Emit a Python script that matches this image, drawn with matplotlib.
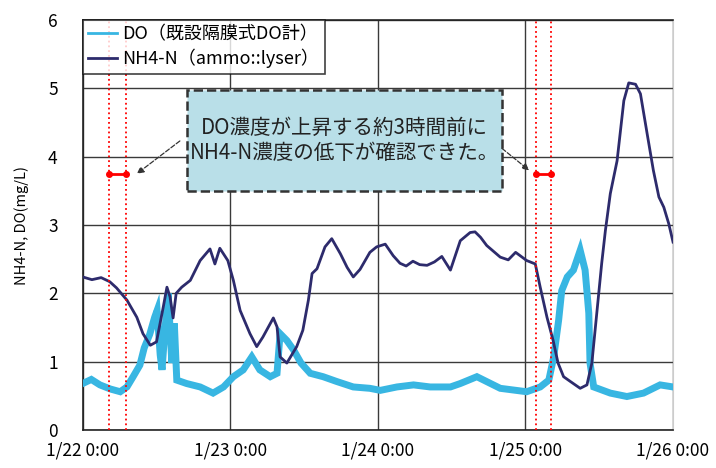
import matplotlib.pyplot as plt
from matplotlib.patches import Rectangle

plt.rcParams['font.family'] = ['Noto Sans CJK JP', 'DejaVu Sans']

# hours from 1/22 0:00
nh4_hours = [0, 1.5, 3.0, 4.4, 5.5, 7.2, 8.8, 9.8, 11.0, 12.0, 13.1, 13.7, 14.2, 14.7, 15.2,
             16.1, 17.5, 19.1, 20.7, 21.5, 22.3, 23.6, 24.5, 25.6, 27.2, 28.3, 29.3, 31.0,
             31.6, 32.1, 33.2, 34.8, 35.8, 36.7, 37.3, 38.1, 39.4, 40.5, 41.9, 43.0, 44.0,
             45.1, 46.7, 47.8, 49.2, 50.5, 51.6, 52.6, 53.7, 54.8, 56.0, 57.2, 58.4, 59.8,
             61.4, 63.0, 63.8, 64.7, 65.7, 67.9, 69.2, 70.4, 72.2, 73.6, 74.4, 75.5, 76.5,
             77.3, 78.2, 79.3, 80.9, 82.0, 82.8, 83.6, 84.4, 85.0, 85.8, 86.9, 88.0, 88.8,
             89.9, 90.7, 91.8, 92.8, 93.7, 94.5, 95.3, 96.0]
nh4_vals = [2.24, 2.20, 2.23, 2.17, 2.08, 1.90, 1.65, 1.41, 1.24, 1.29, 1.80, 2.09, 1.95, 1.64,
            2.00, 2.09, 2.19, 2.48, 2.65, 2.43, 2.66, 2.48, 2.19, 1.75, 1.41, 1.22, 1.36,
            1.64, 1.51, 1.07, 0.98, 1.22, 1.46, 1.90, 2.29, 2.36, 2.68, 2.80, 2.58, 2.38,
            2.24, 2.35, 2.60, 2.68, 2.72, 2.55, 2.44, 2.40, 2.47, 2.42, 2.41, 2.46, 2.54,
            2.34, 2.77, 2.89, 2.90, 2.82, 2.70, 2.53, 2.49, 2.60, 2.48, 2.43, 2.09, 1.65,
            1.31, 0.98, 0.78, 0.71, 0.61, 0.66, 0.98, 1.71, 2.44, 2.92, 3.46, 3.94, 4.82,
            5.08, 5.06, 4.92, 4.33, 3.80, 3.41, 3.26, 3.02, 2.75]

do_hours = [0, 1.4, 2.8, 4.5, 6.1, 7.2, 8.2, 9.3, 10.0, 10.9, 11.7, 12.1, 12.6, 12.9, 13.4,
            13.9, 14.5, 14.9, 15.3, 16.9, 19.1, 21.2, 22.9, 24.5, 26.1, 27.5, 28.8, 30.5,
            31.6, 32.1, 33.2, 34.3, 35.5, 37.0, 39.1, 41.3, 44.0, 46.7, 48.4, 51.1, 53.8,
            56.5, 59.8, 61.4, 64.1, 67.9, 72.2, 74.4, 75.8, 76.6, 77.4, 77.9, 78.8, 79.8,
            80.9, 81.7, 82.3, 82.5, 83.1, 85.8, 88.5, 91.2, 93.9, 96.0]
do_vals = [0.68, 0.74, 0.66, 0.60, 0.56, 0.63, 0.78, 0.95, 1.20, 1.40, 1.65, 1.75, 1.10, 0.88,
           1.50, 2.00, 0.98, 1.56, 0.73, 0.68, 0.63, 0.54, 0.63, 0.78, 0.88, 1.07, 0.88,
           0.78, 0.83, 1.41, 1.31, 1.17, 0.98, 0.83, 0.78, 0.71, 0.63, 0.61, 0.58, 0.63,
           0.66, 0.63, 0.63, 0.68, 0.78, 0.61, 0.56, 0.63, 0.73, 1.07, 1.61, 2.04, 2.24,
           2.34, 2.63, 2.34, 1.71, 0.98, 0.63, 0.54, 0.49, 0.54, 0.66, 0.63]

tick_hours = [0, 24, 48, 72, 96]
tick_labels = ['1/22 0:00', '1/23 0:00', '1/24 0:00', '1/25 0:00', '1/26 0:00']

marker_pairs = [(4.3, 7.05), (73.7, 76.15)]

fig = plt.figure(figsize=(7.16, 4.68), dpi=100)
ax = fig.add_axes([0.1155, 0.0812, 0.8245, 0.876])

ax.plot(do_hours, do_vals, color='#38b6e2', lw=5, solid_joinstyle='miter',
        label='DO（既設隔膜式DO計）', zorder=3)
ax.plot(nh4_hours, nh4_vals, color='#2d2b6c', lw=2, label='NH4-N（ammo::lyser）', zorder=4)

ax.set_xlim(0, 96)
ax.set_ylim(0, 6)
ax.set_xticks(tick_hours)
ax.set_xticklabels(tick_labels)
ax.set_yticks(range(7))
ax.tick_params(length=0, labelsize=12.5)
ax.tick_params(axis='x', pad=8)
ax.tick_params(axis='y', pad=18)
ax.grid(True, color='#3a3a3a', lw=1)
ax.set_axisbelow(True)
for s in ['left', 'bottom', 'top']:
    ax.spines[s].set_color('#222')
    ax.spines[s].set_linewidth(1.2)
ax.spines['right'].set_color('#cccccc')
ax.set_ylabel('NH4-N, DO(mg/L)', fontsize=10.5, labelpad=14)

# red dotted markers and 3h spans
for a, b in marker_pairs:
    for xv in (a, b):
        ax.axvline(xv, color='red', ls=':', lw=1.3, zorder=5)
    ax.plot([a, b], [3.75, 3.75], color='red', lw=2, marker='o', ms=4, zorder=6)

# annotation box
ax.add_patch(Rectangle((17.0, 3.5), 51.2, 1.48, facecolor='#b9dfe8', edgecolor='#333333',
                       ls='--', lw=1.8, zorder=6))
ax.text(42.6, 4.24, 'DO濃度が上昇する約3時間前に\nNH4-N濃度の低下が確認できた。',
        ha='center', va='center', fontsize=14.8, linespacing=1.15, color='#222', zorder=7)
ax.annotate('', xy=(8.8, 3.75), xytext=(15.8, 4.23),
            arrowprops=dict(arrowstyle='-|>', color='#333', lw=0.9, ls='--', mutation_scale=10,
                            shrinkA=0, shrinkB=0), zorder=7)
ax.annotate('', xy=(72.6, 3.80), xytext=(68.2, 4.12),
            arrowprops=dict(arrowstyle='-|>', color='#333', lw=0.9, ls='--', mutation_scale=10,
                            shrinkA=0, shrinkB=0), zorder=7)

leg = ax.legend(loc='upper left', fontsize=13, frameon=True, fancybox=False,
                borderaxespad=0, handlelength=1.6, handletextpad=0.3,
                borderpad=0.3, labelspacing=0.3)
leg.get_frame().set_edgecolor('#111')
leg.get_frame().set_linewidth(1.2)
for ln in leg.get_lines():
    ln.set_linewidth(2)
leg.set_zorder(10)

plt.savefig('out.png', dpi=100)
